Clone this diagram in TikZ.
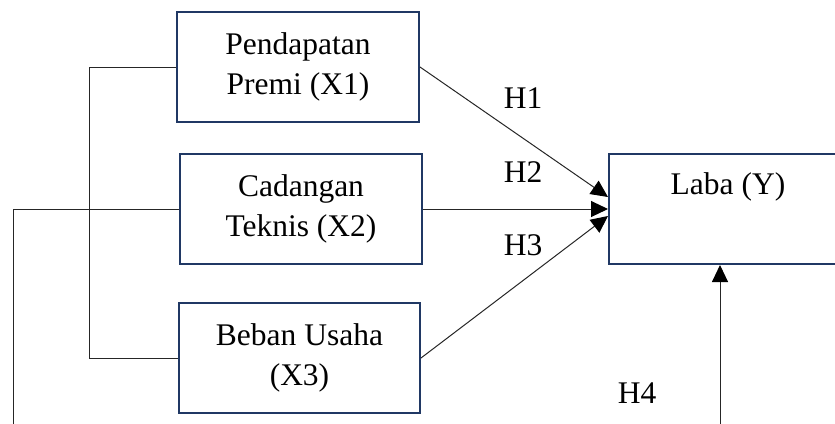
\documentclass[tikz,border=0pt]{standalone}
\usepackage{fontspec}
\setmainfont{Liberation Serif}
\usetikzlibrary{arrows.meta,calc}
\definecolor{boxnavy}{RGB}{32,56,100}
\tikzset{
  varbox/.style={draw=boxnavy, line width=2pt, rectangle, minimum width=242pt,
    minimum height=110pt, inner sep=0pt, align=center,
    font=\fontsize{31.5}{40}\selectfont},
  lbl/.style={font=\fontsize{31.5}{40}\selectfont, inner sep=0pt},
  link/.style={draw=black!85, line width=1pt},
  arr/.style={link, -{Triangle[length=17pt,width=16pt,fill=black,color=black]}}
}
\begin{document}
\begin{tikzpicture}[x=1pt,y=-1pt]
  \useasboundingbox (0,0) rectangle (835,423);
  \clip (0,0) rectangle (835,423);

  % independent variables
  \node[varbox] (X1) at (298,67) {Pendapatan\\Premi (X1)};
  \node[varbox] (X2) at (301,209) {Cadangan\\Teknis (X2)};
  \node[varbox, minimum width=241pt] (X3) at (299.5,358) {Beban Usaha\\(X3)};

  % dependent variable
  \node[varbox, minimum width=238pt] (Y) at (728,209) {};
  \node[lbl] (Ytxt) at (728,187) {Laba (Y)};

  % helper coordinates for the side lines
  \coordinate (bk) at (89,0);
  \coordinate (lf) at (13,430);
  \coordinate (h4s) at (720,430);

  % bracket joining X1 and X3
  \draw[link] (X1.west) -- (X1.west -| bk) -- (X3.west -| bk) -- (X3.west);
  % line leaving X2 to the left
  \draw[link] (X2.west) -- (X2.west -| lf) -- (lf);

  % hypotheses arrows
  \draw[arr] (X1.east) -- ([yshift=12pt]Y.west);
  \draw[arr] (X2.east) -- (Y.west);
  \draw[arr] (X3.east) -- ([yshift=-7pt]Y.west);
  \draw[arr] (h4s) -- (h4s |- Y.south);

  % labels
  \node[lbl] (H1) at (523,98) {H1};
  \node[lbl] (H2) at (523,172) {H2};
  \node[lbl] (H3) at (523,245) {H3};
  \node[lbl] (H4) at (637,393) {H4};
\end{tikzpicture}
\end{document}
